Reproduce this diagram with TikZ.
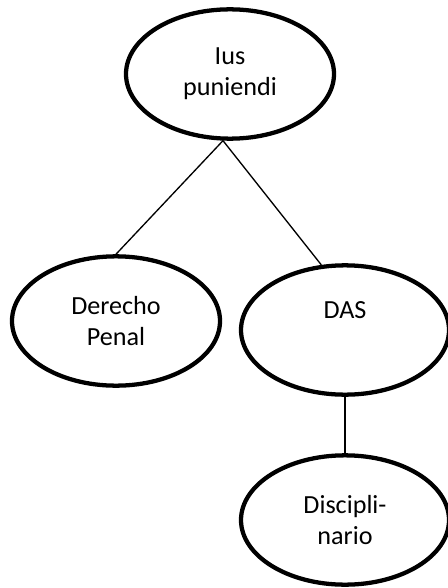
\documentclass[tikz,border=0pt]{standalone}
\usepackage{fontspec}
\setmainfont{Carlito}
\usetikzlibrary{shapes.geometric}

\begin{document}
\begin{tikzpicture}[
  x=0.75pt, y=-0.75pt,
  font=\fontsize{19.6}{23.3}\selectfont,
  oval/.style={draw, ellipse, line width=3.2pt, align=center, inner sep=0pt,
    minimum width=156pt, minimum height=97pt},
  link/.style={line width=1pt}
]
\useasboundingbox (0,0) rectangle (447,588);

% ── Root ──────────────────────────────────────────────────────────────────
\node[oval] (ius) at (230,74) {Ius\\ puniendi};

% ── Branches ──────────────────────────────────────────────────────────────
\node[oval] (penal) at (116,321) {Derecho\\ Penal};
\node[oval] (das) at (345,330) {DAS\\ \strut};
\node[oval] (disc) at (345,520) {Discipli-\\ nario};

% ── Links ─────────────────────────────────────────────────────────────────
\draw[link] (ius.264) -- (penal.north);
\draw[link] (ius.264) -- (das.110);
\draw[link, line width=1.5pt] (das.south) -- (disc.north);

\end{tikzpicture}
\end{document}
